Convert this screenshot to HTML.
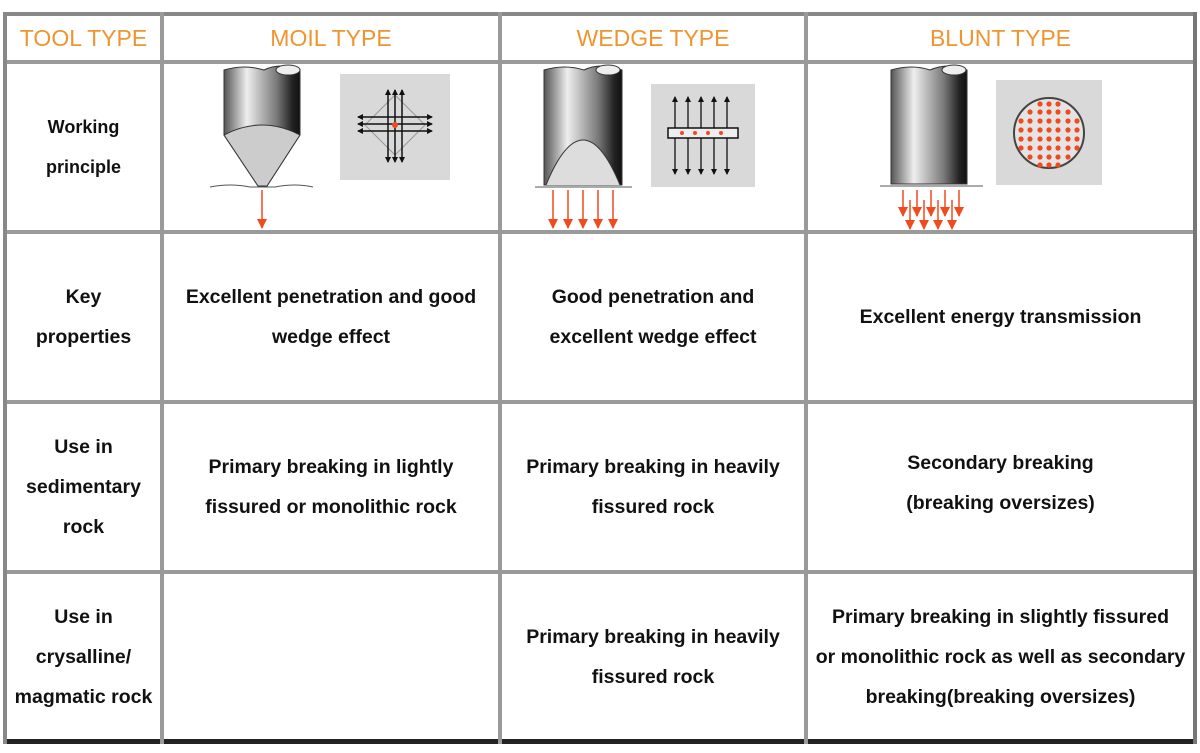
<!DOCTYPE html>
<html><head><meta charset="utf-8"><style>
body{margin:0;background:#fff;width:1200px;height:753px;position:relative;overflow:hidden;font-family:"Liberation Sans",Arial,sans-serif}
.h{position:absolute;background:#9a9a9a}
.c{position:absolute;display:flex;align-items:center;justify-content:center;text-align:center;font-weight:bold;font-size:19.5px;line-height:40px;color:#111}
.o{color:#ef9530;font-weight:normal;font-size:23px;line-height:26px}
</style></head><body>
<div class="h" style="left:3px;top:12px;width:1194px;height:4px;background:#888"></div>
<div class="h" style="left:3px;top:60px;width:1194px;height:4px"></div>
<div class="h" style="left:3px;top:230px;width:1194px;height:4px"></div>
<div class="h" style="left:3px;top:400px;width:1194px;height:4px"></div>
<div class="h" style="left:3px;top:570px;width:1194px;height:4px"></div>
<div class="h" style="left:3px;top:739px;width:1194px;height:5px;background:#222"></div>
<div class="h" style="left:3px;top:12px;width:4px;height:732px;background:#888"></div>
<div class="h" style="left:160px;top:12px;width:4px;height:732px"></div>
<div class="h" style="left:498px;top:12px;width:4px;height:732px"></div>
<div class="h" style="left:804px;top:12px;width:4px;height:732px"></div>
<div class="h" style="left:1193px;top:12px;width:4px;height:732px;background:#777"></div>

<div class="c o" style="left:7px;top:16px;width:153px;height:44px">TOOL TYPE</div>
<div class="c o" style="left:164px;top:16px;width:334px;height:44px">MOIL TYPE</div>
<div class="c o" style="left:502px;top:16px;width:302px;height:44px">WEDGE TYPE</div>
<div class="c o" style="left:808px;top:16px;width:385px;height:44px">BLUNT TYPE</div>

<div class="c" style="left:7px;top:64px;width:153px;height:166px;font-size:18px">Working<br>principle</div>
<div class="c" style="left:7px;top:234px;width:153px;height:166px">Key<br>properties</div>
<div class="c" style="left:164px;top:234px;width:334px;height:166px">Excellent penetration and good<br>wedge effect</div>
<div class="c" style="left:502px;top:234px;width:302px;height:166px">Good penetration and<br>excellent wedge effect</div>
<div class="c" style="left:808px;top:234px;width:385px;height:166px">Excellent energy transmission</div>

<div class="c" style="left:7px;top:404px;width:153px;height:166px">Use in<br>sedimentary<br>rock</div>
<div class="c" style="left:164px;top:404px;width:334px;height:166px">Primary breaking in lightly<br>fissured or monolithic rock</div>
<div class="c" style="left:502px;top:404px;width:302px;height:166px">Primary breaking in heavily<br>fissured rock</div>
<div class="c" style="left:808px;top:400px;width:385px;height:166px">Secondary breaking<br>(breaking oversizes)</div>

<div class="c" style="left:7px;top:574px;width:153px;height:165px">Use in<br>crysalline/<br>magmatic rock</div>
<div class="c" style="left:502px;top:574px;width:302px;height:165px">Primary breaking in heavily<br>fissured rock</div>
<div class="c" style="left:804px;top:574px;width:393px;height:165px">Primary breaking in slightly fissured<br>or monolithic rock as well as secondary<br>breaking(breaking oversizes)</div>

<svg style="position:absolute;left:0;top:0" width="1200" height="753">
<defs>
<linearGradient id="g" x1="0" x2="1"><stop offset="0" stop-color="#555"/><stop offset=".3" stop-color="#eee"/><stop offset=".7" stop-color="#777"/><stop offset=".9" stop-color="#222"/><stop offset="1" stop-color="#111"/></linearGradient>
<marker id="a" markerWidth="10" markerHeight="10" refX="9" refY="5" orient="auto" markerUnits="userSpaceOnUse" viewBox="0 0 10 10"><path d="M0,0L10,5L0,10z" fill="#f04a1e"/></marker>
<marker id="b" markerWidth="6" markerHeight="6" refX="5" refY="3" orient="auto-start-reverse" markerUnits="userSpaceOnUse" viewBox="0 0 6 6"><path d="M0,0L6,3L0,6z" fill="#111"/></marker>
</defs>
<!-- moil -->
<path d="M224,70 Q245,64 264,70 Q280,62 300,70 L300,135 L267,186 L258,186 L224,135Z" fill="url(#g)" stroke="#333"/>
<ellipse cx="288" cy="70" rx="12" ry="5" fill="#eee" stroke="#333"/>
<path d="M224,135 Q262,115 300,135 L267,186 L258,186Z" fill="#ccc" stroke="#333"/>
<path d="M210,187 Q230,183 250,187 L275,187 Q295,183 313,187" fill="none" stroke="#555"/>
<line x1="262" y1="190" x2="262" y2="228" stroke="#f04a1e" stroke-width="1.5" marker-end="url(#a)"/>
<rect x="340" y="74" width="110" height="106" fill="#d9d9d9"/>
<path d="M395,95 L425,125 L395,155 L365,125Z" fill="none" stroke="#999"/>
<g stroke="#111" stroke-width="1.5" marker-start="url(#b)" marker-end="url(#b)"><line x1="388" y1="90" x2="388" y2="162"/><line x1="395" y1="90" x2="395" y2="162"/><line x1="402" y1="90" x2="402" y2="162"/><line x1="358" y1="117" x2="432" y2="117"/><line x1="358" y1="124" x2="432" y2="124"/><line x1="358" y1="131" x2="432" y2="131"/></g>
<circle cx="395" cy="125" r="3" fill="#f04a1e"/>
<!-- wedge -->
<path d="M544,70 Q565,64 584,70 Q600,62 622,70 L622,185 L544,185Z" fill="url(#g)" stroke="#333"/>
<ellipse cx="608" cy="70" rx="12" ry="5" fill="#eee" stroke="#333"/>
<path d="M546,185 Q583,95 620,185" fill="#ddd" stroke="#333"/>
<path d="M535,187 L632,187" stroke="#555"/>
<g stroke="#f04a1e" stroke-width="1.5" marker-end="url(#a)"><line x1="553" y1="190" x2="553" y2="228"/><line x1="568" y1="190" x2="568" y2="228"/><line x1="583" y1="190" x2="583" y2="228"/><line x1="598" y1="190" x2="598" y2="228"/><line x1="613" y1="190" x2="613" y2="228"/></g>
<rect x="651" y="84" width="104" height="103" fill="#d9d9d9"/>
<g stroke="#111" stroke-width="1.3" marker-start="url(#b)" marker-end="url(#b)"><line x1="675" y1="97" x2="675" y2="174"/><line x1="688" y1="97" x2="688" y2="174"/><line x1="701" y1="97" x2="701" y2="174"/><line x1="714" y1="97" x2="714" y2="174"/><line x1="727" y1="97" x2="727" y2="174"/></g>
<rect x="668" y="128" width="70" height="10" fill="#eee" stroke="#111" stroke-width="1.5"/>
<g fill="#f04a1e"><circle cx="682" cy="133" r="2"/><circle cx="695" cy="133" r="2"/><circle cx="708" cy="133" r="2"/><circle cx="721" cy="133" r="2"/></g>
<!-- blunt -->
<path d="M891,70 Q912,64 930,70 Q948,62 967,70 L967,184 L891,184Z" fill="url(#g)" stroke="#333"/>
<ellipse cx="954" cy="70" rx="12" ry="5" fill="#eee" stroke="#333"/>
<path d="M880,186 L983,186" stroke="#555"/>
<g stroke="#f04a1e" stroke-width="1.5" marker-end="url(#a)"><line x1="903" y1="190" x2="903" y2="216"/><line x1="917" y1="190" x2="917" y2="216"/><line x1="931" y1="190" x2="931" y2="216"/><line x1="945" y1="190" x2="945" y2="216"/><line x1="959" y1="190" x2="959" y2="216"/><line x1="910" y1="200" x2="910" y2="229"/><line x1="924" y1="200" x2="924" y2="229"/><line x1="938" y1="200" x2="938" y2="229"/><line x1="952" y1="200" x2="952" y2="229"/></g>
<rect x="996" y="80" width="106" height="105" fill="#d9d9d9"/>
<circle cx="1049" cy="133" r="35" fill="#e4e4e4" stroke="#444" stroke-width="2"/>
<g fill="#f04a1e">
<circle cx="1021" cy="121" r="2.6"/><circle cx="1030" cy="121" r="2.6"/><circle cx="1040" cy="121" r="2.6"/><circle cx="1049" cy="121" r="2.6"/><circle cx="1058" cy="121" r="2.6"/><circle cx="1068" cy="121" r="2.6"/><circle cx="1077" cy="121" r="2.6"/>
<circle cx="1021" cy="130" r="2.6"/><circle cx="1030" cy="130" r="2.6"/><circle cx="1040" cy="130" r="2.6"/><circle cx="1049" cy="130" r="2.6"/><circle cx="1058" cy="130" r="2.6"/><circle cx="1068" cy="130" r="2.6"/><circle cx="1077" cy="130" r="2.6"/>
<circle cx="1021" cy="139" r="2.6"/><circle cx="1030" cy="139" r="2.6"/><circle cx="1040" cy="139" r="2.6"/><circle cx="1049" cy="139" r="2.6"/><circle cx="1058" cy="139" r="2.6"/><circle cx="1068" cy="139" r="2.6"/><circle cx="1077" cy="139" r="2.6"/>
<circle cx="1021" cy="148" r="2.6"/><circle cx="1030" cy="148" r="2.6"/><circle cx="1040" cy="148" r="2.6"/><circle cx="1049" cy="148" r="2.6"/><circle cx="1058" cy="148" r="2.6"/><circle cx="1068" cy="148" r="2.6"/><circle cx="1077" cy="148" r="2.6"/>
<circle cx="1030" cy="112" r="2.6"/><circle cx="1040" cy="112" r="2.6"/><circle cx="1049" cy="112" r="2.6"/><circle cx="1058" cy="112" r="2.6"/><circle cx="1068" cy="112" r="2.6"/>
<circle cx="1030" cy="157" r="2.6"/><circle cx="1040" cy="157" r="2.6"/><circle cx="1049" cy="157" r="2.6"/><circle cx="1058" cy="157" r="2.6"/><circle cx="1068" cy="157" r="2.6"/>
<circle cx="1040" cy="104" r="2.6"/><circle cx="1049" cy="104" r="2.6"/><circle cx="1058" cy="104" r="2.6"/>
<circle cx="1040" cy="165" r="2.6"/><circle cx="1049" cy="165" r="2.6"/><circle cx="1058" cy="165" r="2.6"/>
</g>
</svg>
</body></html>
